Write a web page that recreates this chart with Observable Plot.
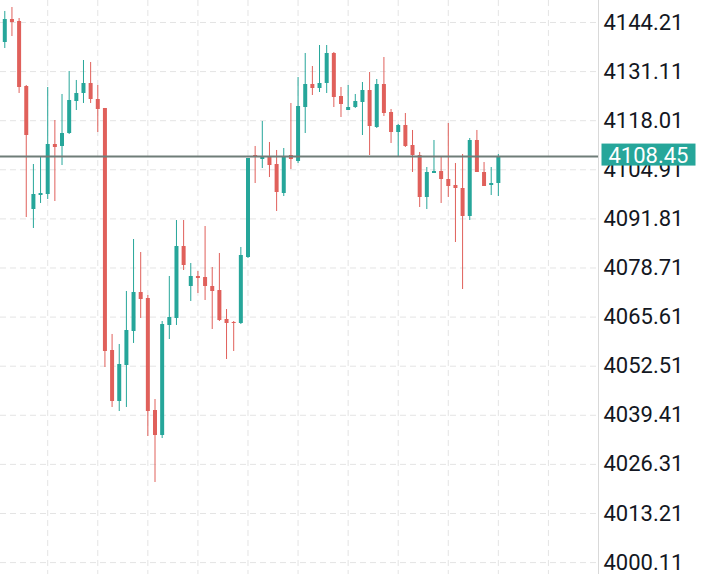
<!DOCTYPE html>
<html>
<head>
<meta charset="utf-8">
<script src="https://cdn.jsdelivr.net/npm/d3@7"></script>
<script src="https://cdn.jsdelivr.net/npm/@observablehq/plot@0.6"></script>
<style>
  html, body { margin: 0; padding: 0; background: #ffffff; }
  #chart svg { display: block; }
</style>
</head>
<body>
<div id="chart"></div>
<script>
// OHLC prices, one entry per bar, oldest first
const opens = [
  4138.87, 4145.01, 4144.48, 4127.13, 4094.31, 4098.05, 4098.32, 4111.66, 4111.13, 4114.59,
  4123.13, 4125.27, 4127.93, 4123.67, 4121.27, 4056.70, 4043.09, 4052.69, 4061.77, 4072.17,
  4070.57, 4040.69, 4034.02, 4063.37, 4065.24, 4084.44, 4073.77, 4076.44, 4076.17, 4073.77,
  4072.70, 4064.97, 4064.17, 4063.90, 4081.51, 4108.72, 4107.65, 4108.19, 4106.32, 4098.58,
  4108.72, 4107.12, 4121.53, 4127.67, 4126.60, 4127.93, 4135.94, 4124.47, 4120.73, 4121.53,
  4122.87, 4126.07, 4116.20, 4127.67, 4120.20, 4114.86, 4116.73, 4111.39, 4108.72, 4097.52,
  4103.92, 4104.45, 4102.32, 4100.72, 4099.92, 4092.45, 4112.73, 4104.19, 4100.72, 4101.25
];
const highs = [
  4147.15, 4148.21, 4145.28, 4127.40, 4106.32, 4108.19, 4126.87, 4118.06, 4125.00, 4131.14,
  4128.74, 4134.07, 4133.54, 4127.40, 4121.27, 4060.97, 4058.30, 4072.44, 4086.31, 4082.84,
  4071.37, 4043.62, 4064.43, 4076.44, 4091.38, 4091.38, 4079.91, 4077.77, 4089.78, 4078.84,
  4082.58, 4067.63, 4064.43, 4084.18, 4107.92, 4111.13, 4117.80, 4112.20, 4110.06, 4110.59,
  4122.60, 4129.53, 4135.94, 4132.47, 4138.07, 4138.07, 4136.21, 4126.87, 4127.40, 4125.00,
  4128.20, 4130.87, 4129.00, 4134.87, 4121.00, 4117.00, 4119.93, 4115.40, 4109.53, 4105.52,
  4112.73, 4108.46, 4117.26, 4106.59, 4108.99, 4113.26, 4115.40, 4106.85, 4105.52, 4108.99
];
const lows = [
  4137.27, 4140.47, 4125.27, 4092.18, 4089.25, 4095.92, 4096.98, 4096.45, 4106.05, 4114.32,
  4120.73, 4122.60, 4122.60, 4114.86, 4052.16, 4041.49, 4040.42, 4041.49, 4058.57, 4065.24,
  4033.75, 4021.48, 4033.21, 4059.63, 4063.37, 4078.04, 4069.77, 4071.90, 4070.04, 4062.30,
  4064.43, 4054.29, 4056.43, 4063.63, 4081.24, 4101.25, 4105.25, 4102.85, 4093.78, 4097.78,
  4104.99, 4106.59, 4114.59, 4124.73, 4125.53, 4125.27, 4121.53, 4118.86, 4120.73, 4121.27,
  4114.06, 4108.72, 4115.93, 4119.13, 4111.93, 4108.19, 4110.86, 4104.19, 4094.85, 4094.31,
  4103.92, 4095.92, 4097.52, 4085.51, 4072.97, 4091.38, 4104.19, 4100.45, 4098.05, 4097.78
];
const closes = [
  4145.01, 4144.21, 4126.87, 4114.06, 4098.32, 4098.58, 4111.66, 4110.86, 4114.59, 4123.40,
  4125.27, 4127.93, 4123.67, 4121.00, 4056.43, 4043.09, 4052.96, 4062.03, 4072.17, 4070.30,
  4040.42, 4034.02, 4063.63, 4065.50, 4084.44, 4079.37, 4076.44, 4075.91, 4073.77, 4072.44,
  4064.70, 4063.90, 4063.90, 4082.04, 4107.92, 4108.19, 4108.46, 4106.05, 4098.85, 4108.46,
  4107.65, 4121.80, 4127.67, 4126.60, 4127.93, 4135.94, 4124.20, 4122.33, 4121.53, 4123.13,
  4126.07, 4116.46, 4127.67, 4119.93, 4114.86, 4116.73, 4111.13, 4108.72, 4097.52, 4104.19,
  4104.45, 4102.32, 4100.45, 4099.92, 4092.45, 4112.73, 4104.19, 4100.45, 4101.25, 4108.45
];

// price axis labels
const priceTicks = [
  4000.11, 4013.21, 4026.31, 4039.41, 4052.51, 4065.61,
  4078.71, 4091.81, 4104.91, 4118.01, 4131.11, 4144.21
];

const lastPrice = closes[closes.length - 1];

const candles = opens.map((open, i) => ({
  i, open, high: highs[i], low: lows[i], close: closes[i]
}));

const upColor = "#26a69a";
const downColor = "#e0605b";
const gridColor = "#e4e4e4";
const candleColor = d => (d.close >= d.open ? upColor : downColor);

// bar slots shown, including empty room to the right of the last bar
const xDomain = [-0.6, 83.0];
const yDomain = [3996.93, 4150.08];
// vertical grid every 7 bars
const timeGrid = d3.range(6, 80, 7);

const chart = Plot.plot({
  width: 719,
  height: 574,
  marginLeft: 0,
  marginRight: 121,
  marginTop: 0,
  marginBottom: 0,
  x: { domain: xDomain, axis: null },
  y: { domain: yDomain, axis: null },
  style: { fontFamily: "Roboto, sans-serif", color: "#131722", background: "#ffffff" },
  marks: [
    Plot.ruleY(priceTicks, { stroke: gridColor, strokeDasharray: "6,4" }),
    Plot.ruleX(timeGrid, { stroke: gridColor, strokeDasharray: "6,4" }),
    Plot.ruleX([xDomain[1]], { stroke: "#d9d9d9" }),
    // wicks
    Plot.ruleX(candles, { x: "i", y1: "low", y2: "high", stroke: candleColor, strokeWidth: 1 }),
    // bodies
    Plot.ruleX(candles, { x: "i", y1: "open", y2: "close", stroke: candleColor, strokeWidth: 4 }),
    // last price line
    Plot.ruleY([lastPrice], { stroke: "#6f7d78", strokeWidth: 2 }),
    Plot.axisY(priceTicks, {
      anchor: "right",
      tickSize: 0,
      tickPadding: 5,
      fontSize: 22,
      label: null,
      tickFormat: d => d.toFixed(2)
    }),
    // last price label
    Plot.text([lastPrice], {
      y: d => d,
      frameAnchor: "right",
      dx: 10,
      dy: -1,
      textAnchor: "start",
      fill: "#ffffff",
      fontSize: 22,
      text: d => d.toFixed(2),
      className: "last-price"
    })
  ]
});

document.getElementById("chart").appendChild(chart);

// teal badge behind the last price label, sharing the label's transform
d3.select(chart).selectAll(".last-price text").each(function () {
  const b = this.getBBox();
  d3.select(this.parentNode)
    .insert("rect", "text")
    .attr("transform", this.getAttribute("transform"))
    .attr("x", b.x - 7)
    .attr("y", b.y + 1)
    .attr("width", b.width + 14)
    .attr("height", b.height - 3)
    .attr("fill", upColor);
});
</script>
</body>
</html>
